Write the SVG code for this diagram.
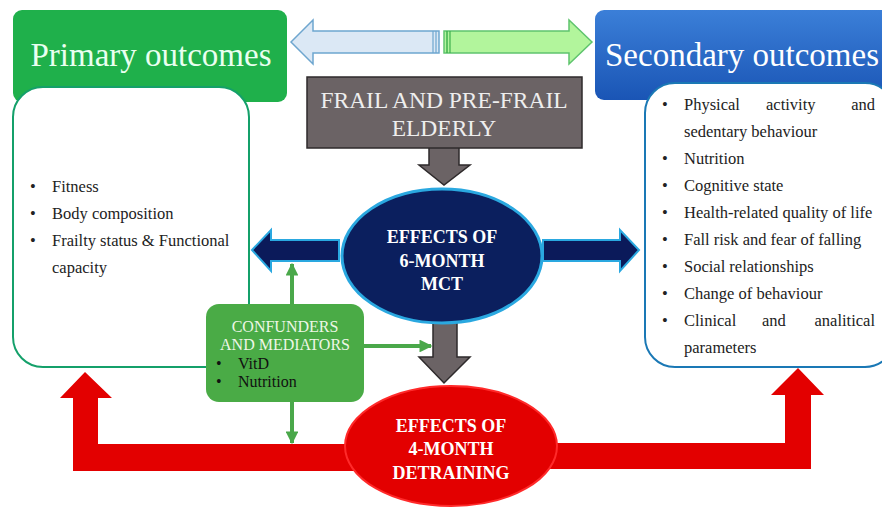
<svg xmlns="http://www.w3.org/2000/svg" width="882" height="508" viewBox="0 0 882 508">
<defs>
<linearGradient id="blueHdr" x1="0" y1="0" x2="0" y2="1">
<stop offset="0" stop-color="#3b7fd8"/>
<stop offset="1" stop-color="#1a55b5"/>
</linearGradient>
<marker id="gArrow" viewBox="0 0 10 10" refX="9" refY="5" markerWidth="3.2" markerHeight="3.2" orient="auto">
<path d="M0,0 L10,5 L0,10 z" fill="#4aa84a"/>
</marker>
</defs>
<style>
text{font-family:"Liberation Serif","Times New Roman",serif}
.hdr{font-family:"Liberation Serif",serif;font-size:33px;fill:#e9fff0;text-anchor:middle}
.li{font-family:"Liberation Serif",serif;font-size:16.5px;fill:#222}
.cap{font-family:"Liberation Serif",serif;font-size:23.5px;fill:#eeeeee;text-anchor:middle}
.eb{font-family:"Liberation Serif",serif;font-size:18px;font-weight:bold;fill:#ffffff;text-anchor:middle}
.cf{font-family:"Liberation Serif",serif;font-size:16px;fill:#eef7e6;text-anchor:middle}
.cb{font-family:"Liberation Serif",serif;font-size:16px;fill:#111}
.gl{stroke:#4aa84a;stroke-width:4;fill:none}
</style>
<rect width="882" height="508" fill="#ffffff"/>

<g id="connectors">
<path d="M291,42 L313,20 L313,31 L439,31 L439,53 L313,53 L313,64 Z" fill="#dbe8f5" stroke="#6ea6cf" stroke-width="1.5"/>
<line x1="433" y1="31" x2="433" y2="53" stroke="#6ea6cf" stroke-width="1.2"/>
<line x1="436" y1="31" x2="436" y2="53" stroke="#6ea6cf" stroke-width="1.2"/>
<path d="M592,42 L569,20 L569,31 L444,31 L444,53 L569,53 L569,64 Z" fill="#b2f59c" stroke="#5fc46e" stroke-width="1.5"/>
<line x1="447" y1="31" x2="447" y2="53" stroke="#3fb04e" stroke-width="1.5"/>
<line x1="450" y1="31" x2="450" y2="53" stroke="#3fb04e" stroke-width="1.2"/>
<path d="M429,147 L459,147 L459,165 L470,165 L444,185 L419,165 L429,165 Z" fill="#6b6365" stroke="#2e2a2b" stroke-width="1.5"/>
<path d="M339,240 L271,240 L271,230 L252,250 L271,271 L271,261 L339,261 Z" fill="#0b1a5a" stroke="#2aa8e0" stroke-width="2"/>
<path d="M543,240 L620,240 L620,230 L639,250 L620,271 L620,261 L543,261 Z" fill="#0b1a5a" stroke="#2aa8e0" stroke-width="2"/>
<path d="M433,318 L457,318 L457,357 L470,357 L444,383 L419,357 L433,357 Z" fill="#6b6365" stroke="#2e2a2b" stroke-width="1.5"/>
<path d="M360,444 L98,444 L98,398 L112,398 L85,372 L60,398 L73,398 L73,471 L360,471 Z" fill="#e30000"/>
<path d="M540,443 L785,443 L785,395 L771,395 L798,368 L824,395 L811,395 L811,469 L540,469 Z" fill="#e30000"/>
<line class="gl" x1="292" y1="304" x2="292" y2="264" marker-end="url(#gArrow)"/>
<line class="gl" x1="364" y1="346" x2="431" y2="346" marker-end="url(#gArrow)"/>
<line class="gl" x1="292" y1="402" x2="292" y2="443" marker-end="url(#gArrow)"/>
</g>

<g id="primary-header">
<rect x="13" y="10" width="274" height="92" rx="9" fill="#1fb04b"/>
<text class="hdr" x="151" y="66">Primary outcomes</text>
</g>

<g id="primary-body">
<rect x="13" y="87" width="236" height="280" rx="30" fill="#ffffff" stroke="#14a06a" stroke-width="2"/>
<text class="li" x="30" y="192">•</text><text class="li" x="52" y="192">Fitness</text>
<text class="li" x="30" y="219">•</text><text class="li" x="52" y="219">Body composition</text>
<text class="li" x="30" y="246">•</text><text class="li" x="52" y="246">Frailty status &amp; Functional</text>
<text class="li" x="52" y="273">capacity</text>
</g>

<g id="secondary-header">
<rect x="595" y="10" width="300" height="90" rx="9" fill="url(#blueHdr)"/>
<text class="hdr" x="742" y="66" style="fill:#ffffff">Secondary outcomes</text>
</g>

<g id="secondary-body">
<rect x="645" y="83" width="250" height="284" rx="30" fill="#ffffff" stroke="#1a78b5" stroke-width="2"/>
<text class="li" x="662" y="110">•</text><text class="li" x="684" y="110">Physical</text><text class="li" x="766" y="110">activity</text><text class="li" x="875" y="110" text-anchor="end">and</text>
<text class="li" x="684" y="137">sedentary behaviour</text>
<text class="li" x="662" y="164">•</text><text class="li" x="684" y="164">Nutrition</text>
<text class="li" x="662" y="191">•</text><text class="li" x="684" y="191">Cognitive state</text>
<text class="li" x="662" y="218">•</text><text class="li" x="684" y="218">Health-related quality of life</text>
<text class="li" x="662" y="245">•</text><text class="li" x="684" y="245">Fall risk and fear of falling</text>
<text class="li" x="662" y="272">•</text><text class="li" x="684" y="272">Social relationships</text>
<text class="li" x="662" y="299">•</text><text class="li" x="684" y="299">Change of behaviour</text>
<text class="li" x="662" y="326">•</text><text class="li" x="684" y="326">Clinical</text><text class="li" x="762" y="326">and</text><text class="li" x="875" y="326" text-anchor="end">analitical</text>
<text class="li" x="684" y="353">parameters</text>
</g>

<g id="frail-elderly">
<rect x="307" y="77" width="275" height="71" fill="#6b6365" stroke="#2e2a2b" stroke-width="1.5"/>
<text class="cap" x="444" y="108">FRAIL AND PRE-FRAIL</text>
<text class="cap" x="444" y="136">ELDERLY</text>
</g>

<g id="effects-mct">
<ellipse cx="442" cy="256" rx="100" ry="67" fill="#0b1f5e" stroke="#2aa8e0" stroke-width="3"/>
<text class="eb" x="442" y="243">EFFECTS OF</text>
<text class="eb" x="442" y="267">6-MONTH</text>
<text class="eb" x="442" y="290">MCT</text>
</g>

<g id="confounders">
<rect x="206" y="304" width="158" height="98" rx="13" fill="#4aab46"/>
<text class="cf" x="285" y="332">CONFUNDERS</text>
<text class="cf" x="285" y="350">AND MEDIATORS</text>
<text class="cb" x="216" y="369">•</text><text class="cb" x="238" y="369">VitD</text>
<text class="cb" x="216" y="387">•</text><text class="cb" x="238" y="387">Nutrition</text>
</g>

<g id="effects-detraining">
<ellipse cx="451" cy="446" rx="106" ry="60" fill="#e30000" stroke="#ff2a2a" stroke-width="2"/>
<text class="eb" x="451" y="432">EFFECTS OF</text>
<text class="eb" x="451" y="455">4-MONTH</text>
<text class="eb" x="451" y="479">DETRAINING</text>
</g>
</svg>
